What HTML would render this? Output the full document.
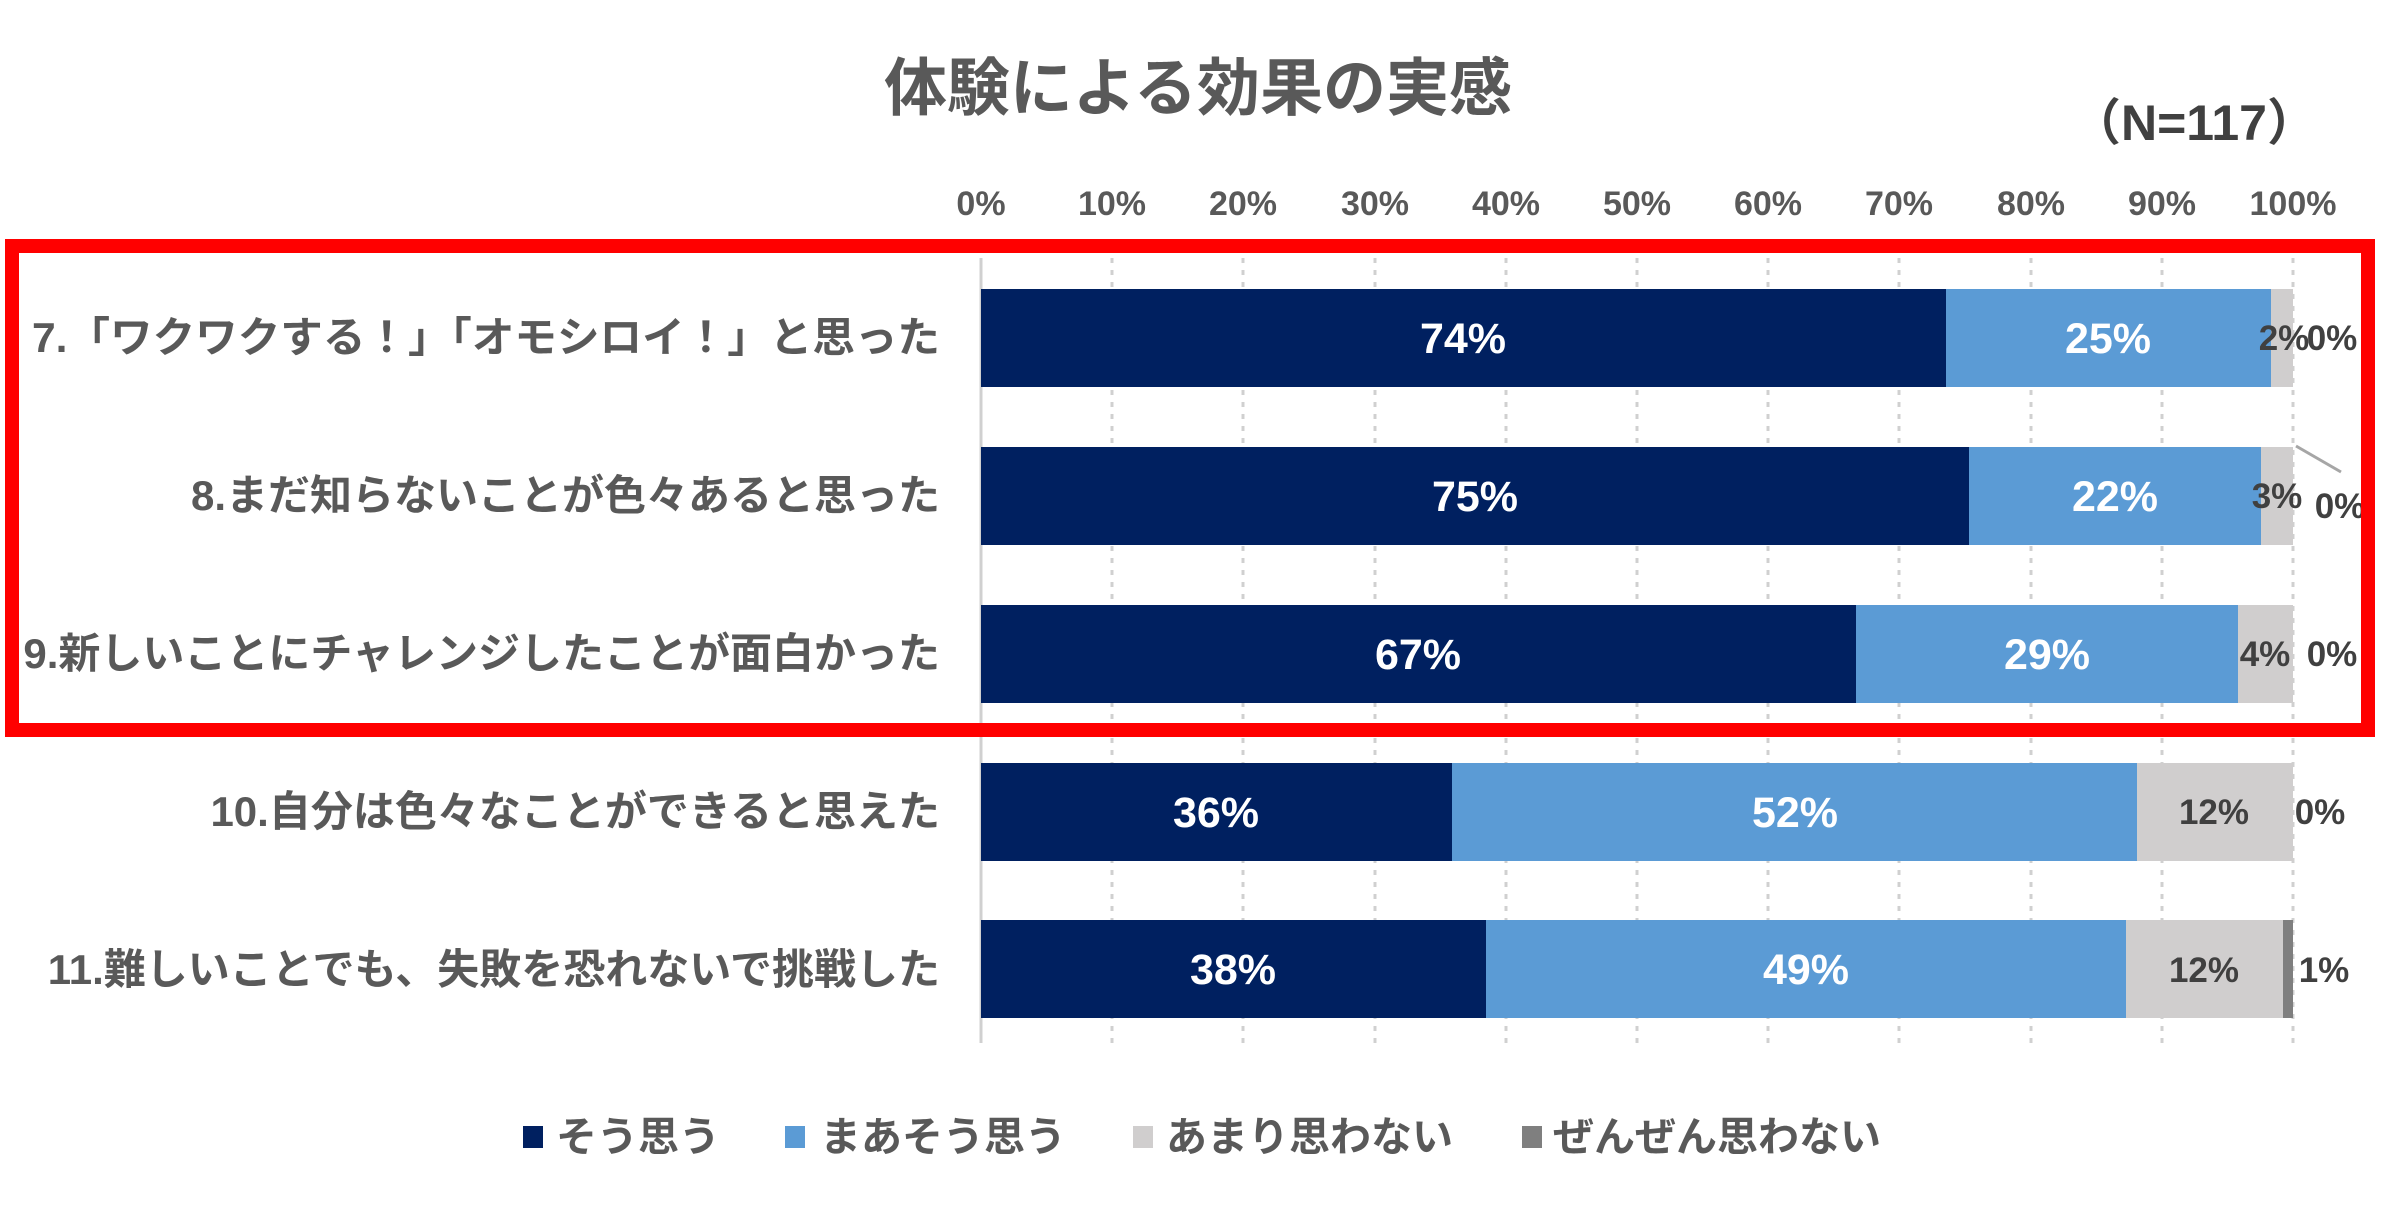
<!DOCTYPE html>
<html><head><meta charset="utf-8"><style>
html,body{margin:0;padding:0;background:#fff;}
svg{display:block;}
text{font-family:"Liberation Sans","Noto Sans CJK JP",sans-serif;font-weight:bold;}
</style></head><body>
<svg width="2393" height="1205" viewBox="0 0 2393 1205" xmlns="http://www.w3.org/2000/svg">
<rect width="2393" height="1205" fill="#fff"/>
<text x="1198" y="110" font-size="63" fill="#595959" text-anchor="middle">体験による効果の実感</text>
<text x="2194" y="140" font-size="50" fill="#404040" text-anchor="middle">（N=117）</text>
<g font-size="34" fill="#595959" text-anchor="middle">
<text x="981" y="215">0%</text><text x="1112" y="215">10%</text><text x="1243" y="215">20%</text><text x="1375" y="215">30%</text><text x="1506" y="215">40%</text><text x="1637" y="215">50%</text><text x="1768" y="215">60%</text><text x="1899" y="215">70%</text><text x="2031" y="215">80%</text><text x="2162" y="215">90%</text><text x="2293" y="215">100%</text>
</g>
<g stroke="#d0d0d0" stroke-width="3" stroke-dasharray="5,7">
<line x1="1112" y1="258" x2="1112" y2="1043"/><line x1="1243" y1="258" x2="1243" y2="1043"/><line x1="1375" y1="258" x2="1375" y2="1043"/><line x1="1506" y1="258" x2="1506" y2="1043"/><line x1="1637" y1="258" x2="1637" y2="1043"/><line x1="1768" y1="258" x2="1768" y2="1043"/><line x1="1899" y1="258" x2="1899" y2="1043"/><line x1="2031" y1="258" x2="2031" y2="1043"/><line x1="2162" y1="258" x2="2162" y2="1043"/><line x1="2293" y1="258" x2="2293" y2="1043"/>
</g>
<line x1="981" y1="258" x2="981" y2="1043" stroke="#d0d0d0" stroke-width="3"/>
<g>
<rect x="981" y="289" width="965" height="98" fill="#002060"/><rect x="1946" y="289" width="325" height="98" fill="#5B9BD5"/><rect x="2271" y="289" width="22" height="98" fill="#D0CECE"/>
<rect x="981" y="447" width="988" height="98" fill="#002060"/><rect x="1969" y="447" width="292" height="98" fill="#5B9BD5"/><rect x="2261" y="447" width="32" height="98" fill="#D0CECE"/>
<rect x="981" y="605" width="875" height="98" fill="#002060"/><rect x="1856" y="605" width="382" height="98" fill="#5B9BD5"/><rect x="2238" y="605" width="55" height="98" fill="#D0CECE"/>
<rect x="981" y="763" width="471" height="98" fill="#002060"/><rect x="1452" y="763" width="685" height="98" fill="#5B9BD5"/><rect x="2137" y="763" width="156" height="98" fill="#D0CECE"/>
<rect x="981" y="920" width="505" height="98" fill="#002060"/><rect x="1486" y="920" width="640" height="98" fill="#5B9BD5"/><rect x="2126" y="920" width="157" height="98" fill="#D0CECE"/><rect x="2283" y="920" width="10" height="98" fill="#7F7F7F"/>
</g>
<g font-size="43" fill="#fff" text-anchor="middle">
<text x="1463" y="353">74%</text><text x="2108" y="353">25%</text>
<text x="1475" y="511">75%</text><text x="2115" y="511">22%</text>
<text x="1418" y="669">67%</text><text x="2047" y="669">29%</text>
<text x="1216" y="827">36%</text><text x="1795" y="827">52%</text>
<text x="1233" y="984">38%</text><text x="1806" y="984">49%</text>
</g>
<g font-size="35" fill="#404040" text-anchor="middle">
<text x="2284" y="350">2%</text><text x="2332" y="350">0%</text>
<text x="2277" y="508">3%</text><text x="2340" y="518">0%</text>
<text x="2265" y="666">4%</text><text x="2332" y="666">0%</text>
<text x="2214" y="824">12%</text><text x="2320" y="824">0%</text>
<text x="2204" y="982">12%</text><text x="2324" y="982">1%</text>
</g>
<line x1="2296" y1="446" x2="2341" y2="472" stroke="#a6a6a6" stroke-width="3"/>
<g font-size="42" fill="#595959" text-anchor="end">
<text x="940" y="352" textLength="908" lengthAdjust="spacingAndGlyphs">7.「ワクワクする！」「オモシロイ！」と思った</text>
<text x="940" y="510">8.まだ知らないことが色々あると思った</text>
<text x="940" y="668">9.新しいことにチャレンジしたことが面白かった</text>
<text x="940" y="826">10.自分は色々なことができると思えた</text>
<text x="940" y="984">11.難しいことでも、失敗を恐れないで挑戦した</text>
</g>
<rect x="12" y="246" width="2356" height="484" fill="none" stroke="#FF0000" stroke-width="14"/>
<g font-size="41" fill="#595959">
<rect x="523" y="1126" width="20" height="22" fill="#002060"/><text x="556" y="1151">そう思う</text>
<rect x="785" y="1126" width="20" height="22" fill="#5B9BD5"/><text x="820" y="1151">まあそう思う</text>
<rect x="1133" y="1126" width="20" height="22" fill="#D0CECE"/><text x="1166" y="1151">あまり思わない</text>
<rect x="1522" y="1126" width="20" height="22" fill="#7F7F7F"/><text x="1553" y="1151">ぜんぜん思わない</text>
</g>
</svg>
</body></html>
